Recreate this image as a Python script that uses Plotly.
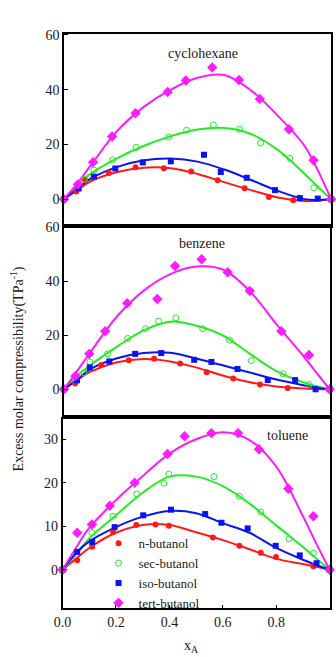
import plotly.graph_objects as go

# ---------------- data ----------------
series_names = ["n-butanol", "sec-butanol", "iso-butanol", "tert-butanol"]
panel_labels = ["cyclohexane", "benzene", "toluene"]

# fitted-curve sample positions
curve_x = [0, 0.05, 0.1, 0.2, 0.3, 0.4, 0.5, 0.6, 0.7, 0.8, 0.9, 0.95, 1.0]

# --- cyclohexane ---
cyc_n_x = [0, 0.046, 0.079, 0.168, 0.268, 0.374, 0.476, 0.575, 0.676, 0.767, 0.858, 1.0]
cyc_n_y = [0, 2.8, 7.0, 9.5, 11.6, 11.3, 10.1, 6.9, 4.0, 0.8, -0.4, 0]
cyc_sec_x = [0, 0.076, 0.112, 0.182, 0.27, 0.392, 0.459, 0.559, 0.657, 0.736, 0.846, 0.935, 1.0]
cyc_sec_y = [0, 7.2, 10.6, 14.3, 18.9, 22.7, 25.2, 27.1, 25.5, 20.5, 14.9, 4.2, 0]
cyc_iso_x = [0, 0.055, 0.112, 0.192, 0.295, 0.4, 0.524, 0.587, 0.684, 0.79, 0.883, 0.95, 1.0]
cyc_iso_y = [0, 3.9, 8.2, 11.2, 13.4, 13.8, 16.2, 9.9, 7.8, 3.3, 0.4, 0.2, 0]
cyc_tert_x = [0, 0.052, 0.109, 0.18, 0.268, 0.388, 0.456, 0.555, 0.655, 0.733, 0.842, 0.934, 1.0]
cyc_tert_y = [0, 5.4, 13.5, 22.9, 31.4, 39.1, 43.3, 48.1, 43.5, 36.6, 25.5, 14.2, 0]
cyc_n_fit = [0, 3.3, 6.5, 9.9, 11.5, 11.3, 9.2, 6.2, 3.3, 0.6, -0.7, -0.6, 0]
cyc_sec_fit = [0, 5.0, 9.3, 15.0, 19.5, 23.0, 25.4, 26.0, 23.8, 18.0, 9.3, 4.5, 0]
cyc_iso_fit = [0, 3.8, 7.5, 11.8, 14.2, 14.8, 13.7, 10.8, 7.0, 3.0, 0.0, -0.3, 0]
cyc_tert_fit = [0, 5.8, 12.3, 25.0, 33.8, 40.0, 44.3, 45.3, 39.7, 30.5, 19.5, 10.5, 0]

# --- benzene ---
ben_n_x = [0, 0.042, 0.14, 0.244, 0.339, 0.437, 0.537, 0.637, 0.738, 0.842, 1.0]
ben_n_y = [0, 2.1, 9.0, 10.7, 11.3, 9.5, 6.3, 4.0, 1.8, 0.5, 0]
ben_sec_x = [0, 0.075, 0.097, 0.164, 0.24, 0.307, 0.356, 0.421, 0.522, 0.623, 0.705, 0.824, 0.923, 1.0]
ben_sec_y = [0, 6.1, 10.1, 13.1, 18.8, 22.4, 25.2, 26.4, 22.4, 18.2, 10.6, 5.7, 1.8, 0]
ben_iso_x = [0, 0.049, 0.097, 0.171, 0.268, 0.366, 0.49, 0.555, 0.653, 0.767, 0.87, 0.947, 1.0]
ben_iso_y = [0, 3.3, 8.1, 10.3, 13.1, 13.4, 10.9, 10.1, 7.5, 3.4, 3.4, 0.0, 0]
ben_tert_x = [0, 0.043, 0.095, 0.155, 0.238, 0.351, 0.418, 0.518, 0.616, 0.699, 0.818, 0.922, 1.0]
ben_tert_y = [0, 4.9, 13.1, 21.5, 31.8, 33.4, 45.6, 48.1, 43.3, 36.4, 21.5, 12.7, 0]
ben_n_fit = [0, 3.5, 6.5, 10.0, 11.2, 10.3, 8.0, 5.0, 2.6, 1.0, 0.3, 0.1, 0]
ben_sec_fit = [0, 5.0, 9.0, 15.8, 21.8, 25.0, 23.5, 19.8, 13.1, 6.7, 2.6, 1.2, 0]
ben_iso_fit = [0, 3.6, 7.5, 11.5, 13.4, 13.5, 11.3, 8.8, 6.2, 3.6, 1.5, 0.6, 0]
ben_tert_fit = [0, 6.8, 13.8, 27.0, 36.5, 42.6, 45.4, 44.2, 36.2, 24.0, 12.4, 6.2, 0]

# --- toluene ---
tol_n_x = [0, 0.055, 0.111, 0.189, 0.276, 0.348, 0.398, 0.563, 0.662, 0.742, 0.799, 0.939, 1.0]
tol_n_y = [0, 2.2, 5.3, 8.7, 10.3, 10.4, 10.1, 7.4, 5.5, 3.9, 2.9, 0.8, 0]
tol_sec_x = [0, 0.11, 0.189, 0.278, 0.379, 0.398, 0.567, 0.662, 0.742, 0.848, 0.939, 1.0]
tol_sec_y = [0, 8.5, 12.3, 17.4, 19.9, 22.0, 21.4, 16.9, 13.3, 7.1, 3.8, 0]
tol_iso_x = [0, 0.055, 0.111, 0.195, 0.302, 0.406, 0.534, 0.595, 0.693, 0.798, 0.888, 0.951, 1.0]
tol_iso_y = [0, 4.1, 6.4, 9.8, 12.5, 13.8, 12.8, 10.8, 9.5, 5.5, 3.3, 1.5, 0]
tol_tert_x = [0, 0.055, 0.11, 0.177, 0.27, 0.393, 0.457, 0.557, 0.657, 0.735, 0.845, 0.939, 1.0]
tol_tert_y = [0, 8.5, 10.4, 14.7, 20.0, 26.6, 30.7, 31.4, 31.4, 27.7, 18.6, 12.3, 0]
tol_n_fit = [0, 2.5, 5.0, 8.5, 10.3, 10.3, 8.6, 6.8, 4.7, 2.5, 1.3, 0.7, 0]
tol_sec_fit = [0, 3.5, 7.2, 12.5, 17.7, 21.4, 21.4, 19.2, 15.2, 10.2, 5.2, 2.6, 0]
tol_iso_fit = [0, 3.8, 6.5, 9.8, 12.2, 13.5, 13.0, 10.7, 8.5, 5.0, 2.3, 1.1, 0]
tol_tert_fit = [0, 5.0, 9.6, 16.0, 21.5, 26.7, 30.0, 31.6, 29.8, 23.7, 12.3, 6.0, 0]

x_ticks = [0.0, 0.2, 0.4, 0.6, 0.8, 1.0]
x_tick_labels = ["0.0", "0.2", "0.4", "0.6", "0.8", "1.0"]
y_ticks_top = [0, 20, 40, 60]
y_ticks_bottom = [0, 10, 20, 30]

# ---------------- styling ----------------
W, H = 336, 657
FONT = "Liberation Serif, Times New Roman, Times, serif"
TXT = "#1a1a1a"
colors = ["#ff1a1a", "#22ee22", "#0a14f0", "#ff1aff"]
markers = [
    dict(symbol="circle", size=6),
    dict(symbol="circle-open", size=6, line=dict(width=1)),
    dict(symbol="square", size=6),
    dict(symbol="diamond", size=8),
]

panels = [
    dict(pts=[(cyc_n_x, cyc_n_y), (cyc_sec_x, cyc_sec_y), (cyc_iso_x, cyc_iso_y), (cyc_tert_x, cyc_tert_y)],
         fits=[cyc_n_fit, cyc_sec_fit, cyc_iso_fit, cyc_tert_fit]),
    dict(pts=[(ben_n_x, ben_n_y), (ben_sec_x, ben_sec_y), (ben_iso_x, ben_iso_y), (ben_tert_x, ben_tert_y)],
         fits=[ben_n_fit, ben_sec_fit, ben_iso_fit, ben_tert_fit]),
    dict(pts=[(tol_n_x, tol_n_y), (tol_sec_x, tol_sec_y), (tol_iso_x, tol_iso_y), (tol_tert_x, tol_tert_y)],
         fits=[tol_n_fit, tol_sec_fit, tol_iso_fit, tol_tert_fit]),
]

# pixel boxes of panels: (left, right, top, bottom)
boxes = [(56.5, 331, 28, 222), (56.5, 329.5, 222, 413), (55, 329.5, 417, 608)]
yranges = [[-9.8, 60.4], [-9.6, 60.4], [-8.9, 34.6]]

fig = go.Figure()

for p, panel in enumerate(panels):
    xa = "x" if p == 0 else f"x{p+1}"
    ya = "y" if p == 0 else f"y{p+1}"
    for s in range(4):
        fig.add_trace(go.Scatter(
            x=curve_x, y=panel["fits"][s], mode="lines",
            line=dict(color=colors[s], width=2, shape="spline", smoothing=1.0),
            xaxis=xa, yaxis=ya, showlegend=False, hoverinfo="skip"))
    for s in range(4):
        px, py = panel["pts"][s]
        mk = dict(markers[s])
        mk["color"] = colors[s]
        fig.add_trace(go.Scatter(
            x=px, y=py, mode="markers", marker=mk, name=series_names[s],
            xaxis=xa, yaxis=ya, showlegend=(p == 2), cliponaxis=False))

layout = dict(
    width=W, height=H, margin=dict(l=0, r=0, t=0, b=0),
    paper_bgcolor="white", plot_bgcolor="white",
    font=dict(family=FONT, size=14, color=TXT),
    legend=dict(x=92 / W, y=1 - 527 / H, xanchor="left", yanchor="top",
                bgcolor="rgba(0,0,0,0)", font=dict(family=FONT, size=13, color=TXT),
                tracegroupgap=0, itemwidth=30),
)

for p, (l, r, t, b) in enumerate(boxes):
    sfx = "" if p == 0 else str(p + 1)
    layout["xaxis" + sfx] = dict(
        domain=[l / W, r / W], range=[0, 1], anchor="y" + sfx,
        showline=True, mirror=True, linecolor="black", linewidth=1.6,
        showgrid=False, zeroline=False,
        tickvals=x_ticks, ticktext=x_tick_labels,
        ticks="inside" if p == 2 else "", ticklen=4, tickcolor="black",
        showticklabels=(p == 2), tickfont=dict(family=FONT, size=14, color=TXT),
    )
    layout["yaxis" + sfx] = dict(
        domain=[1 - b / H, 1 - t / H], range=yranges[p], anchor="x" + sfx,
        showline=True, mirror=True, linecolor="black", linewidth=1.6,
        showgrid=False, zeroline=False,
        tickvals=y_ticks_bottom if p == 2 else y_ticks_top,
        ticks="inside", ticklen=4, tickcolor="black",
        tickfont=dict(family=FONT, size=14, color=TXT),
    )

fig.update_layout(**layout)

ann = [
    dict(text=panel_labels[0], x=199 / W, y=1 - 48 / H),
    dict(text=panel_labels[1], x=198 / W, y=1 - 240 / H),
    dict(text=panel_labels[2], x=286 / W, y=1 - 433 / H),
    dict(text="x<sub>A</sub>", x=187 / W, y=1 - 646 / H),
]
for a in ann:
    fig.add_annotation(xref="paper", yref="paper", showarrow=False,
                       xanchor="center", yanchor="middle",
                       font=dict(family=FONT, size=14, color=TXT), **a)
fig.add_annotation(xref="paper", yref="paper", showarrow=False,
                   text="Excess molar compressibility(TPa<sup>-1</sup>)",
                   x=9 / W, y=1 - 366 / H, textangle=-90,
                   xanchor="center", yanchor="middle",
                   font=dict(family=FONT, size=14, color=TXT))

fig.write_html("out.html")
